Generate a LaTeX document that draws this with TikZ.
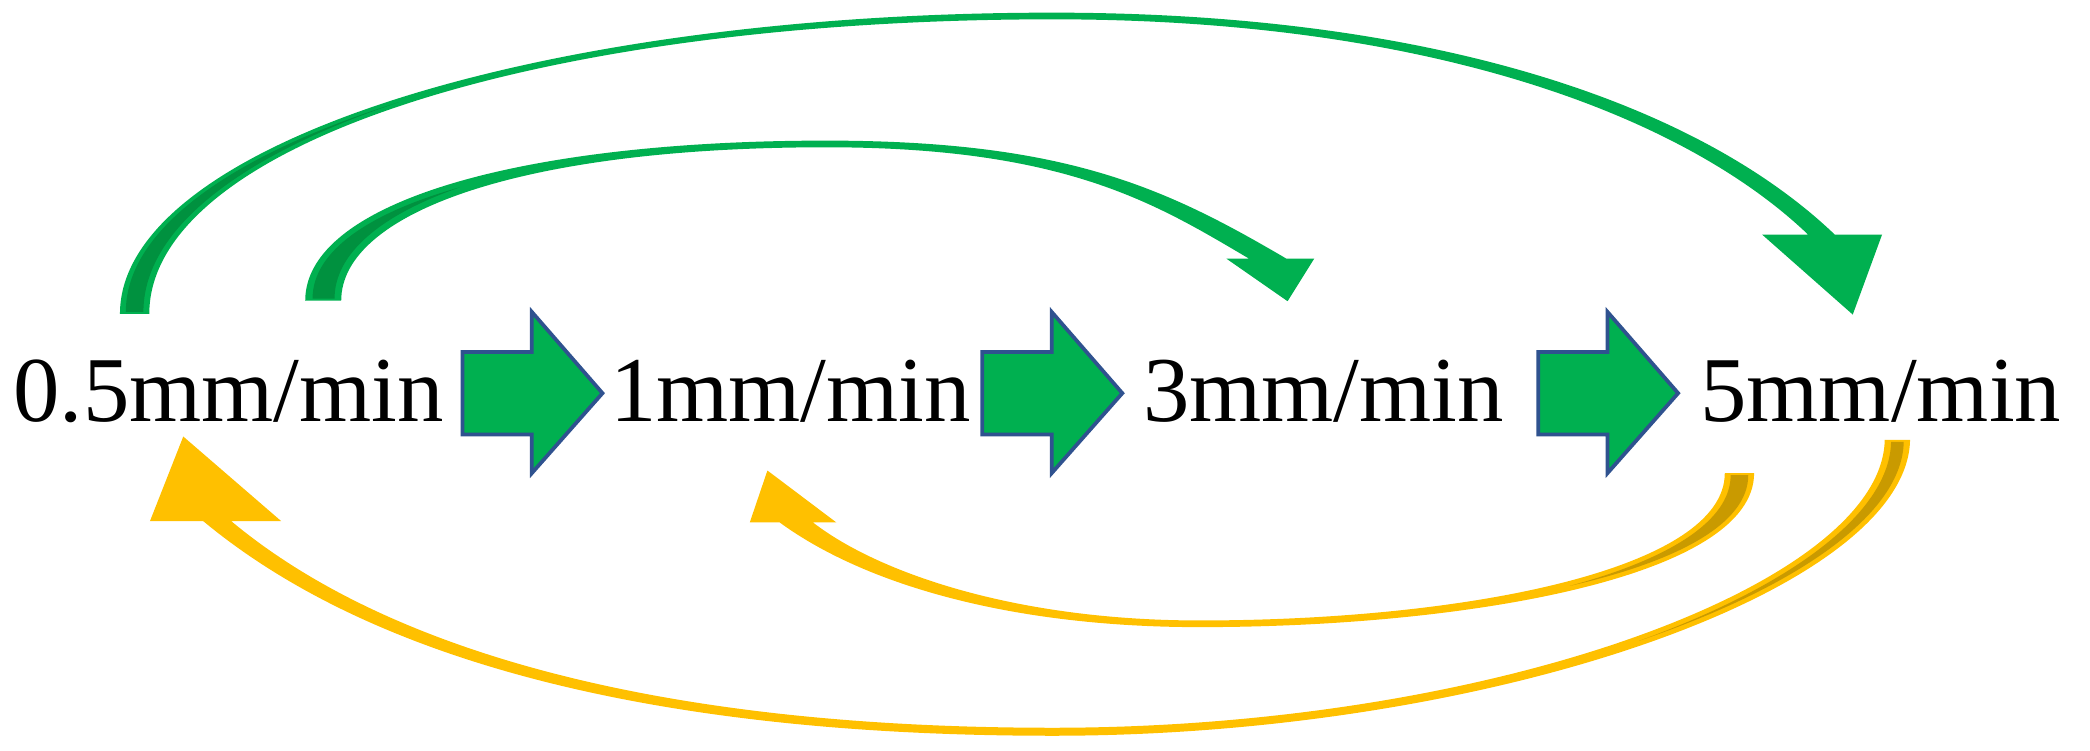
\documentclass[tikz,border=0pt]{standalone}
\usepackage{fontspec}
\setmainfont{Liberation Serif}
\usepackage{tikz}
\definecolor{arrgreen}{HTML}{00B050}
\definecolor{arrgreendk}{HTML}{00913F}
\definecolor{arryellow}{HTML}{FFC000}
\definecolor{arryellowdk}{HTML}{C99A00}
\definecolor{arrblue}{HTML}{2F528F}

\begin{document}
\begin{tikzpicture}[x=0.1mm, y=-0.1mm,
  lbl/.style={anchor=base, inner sep=0pt, font=\fontsize{19.8}{24}\selectfont},
  blockarr/.style={fill=arrgreen, draw=arrblue, line width=0.8pt, line join=miter},
  grn/.style={fill=arrgreen},
  grndk/.style={fill=arrgreendk},
  ylw/.style={fill=arryellow},
  ylwdk/.style={fill=arryellowdk}]
\useasboundingbox (0,0) rectangle (1568,563);

\node[lbl] (v05) at (171.5,316) {0.5mm/min};
\node[lbl] (v1)  at (593,316)   {1mm/min};
\node[lbl] (v3)  at (993,316)   {3mm/min};
\node[lbl] (v5)  at (1411,316)  {5mm/min};

\foreach \x in {347,737,1154}
  \draw[blockarr, shift={(\x,0)}] (0,264) -- (52,264) -- (52,234) -- (105,295)
    -- (52,355) -- (52,326) -- (0,326) -- cycle;

\coordinate (g5tip) at (1390,236);
\coordinate (g3tip) at (966,226);
\coordinate (y05tip) at (137.5,327.5);
\coordinate (y1tip) at (575.75,353);

% 0.5 -> 5
\fill[grn] (90,235.5) .. controls (90,110) and (400,9.5) .. (790,9.5)
  .. controls (1080,9.5) and (1276.3,80) .. (1376.5,176) -- (1412,176) -- (g5tip)
  -- (1322,176) -- (1356.5,176) .. controls (1266.7,90) and (1080,14.5) .. (790,14.5)
  .. controls (400,14.5) and (112,110) .. (112,235.5) -- cycle;
\fill[grndk] (94.4,234) .. controls (94.4,172.5) and (172.4,116.5) .. (299.25,76.65)
  .. controls (179,117) and (107.6,172.5) .. (107.6,234) -- cycle;

% 0.5 -> 3
\fill[grn] (229,225.5) .. controls (229,152) and (390,105.5) .. (620,105.5)
  .. controls (800,105.5) and (874.6,141) .. (965,194) -- (986,194) -- (g3tip)
  -- (920,194) -- (937,194) .. controls (867.4,153) and (800,110.5) .. (620,110.5)
  .. controls (390,110.5) and (256,160) .. (256,225.5) -- cycle;
\fill[grndk] (234.5,224) .. controls (234.5,188.8) and (275.9,160) .. (345,140.5)
  .. controls (283.7,162) and (251,191.2) .. (251,224) -- cycle;

% 5 -> 0.5
\fill[ylw] (1433,330) .. controls (1431,442) and (1120,552) .. (790,552)
  .. controls (420,552) and (243.5,466.4) .. (152.5,391) -- (112.5,391) -- (y05tip)
  -- (211,391) -- (173.5,391) .. controls (252,456.4) and (420,546) .. (790,546)
  .. controls (1120,546) and (1412,438) .. (1414,330) -- cycle;
\fill[ylwdk] (1428.25,331.5) .. controls (1427.25,385.5) and (1348.8,440.3) .. (1229.75,480.75)
  .. controls (1344.5,439.2) and (1417.75,384.5) .. (1418.75,331.5) -- cycle;

% 5 -> 1
\fill[ylw] (1316,355) .. controls (1316,433) and (1100,470.5) .. (900,470.5)
  .. controls (760,470.5) and (649.6,439.2) .. (585,392) -- (562.5,392) -- (y1tip)
  -- (627.5,392) -- (610,392) .. controls (657.4,428.8) and (760,465.5) .. (900,465.5)
  .. controls (1100,465.5) and (1294,427) .. (1294,355) -- cycle;
\fill[ylwdk] (1311.6,356.5) .. controls (1311.6,393.4) and (1257,421.6) .. (1177.5,439.6)
  .. controls (1250.5,419.9) and (1298.4,391.6) .. (1298.4,356.5) -- cycle;

\end{tikzpicture}
\end{document}
